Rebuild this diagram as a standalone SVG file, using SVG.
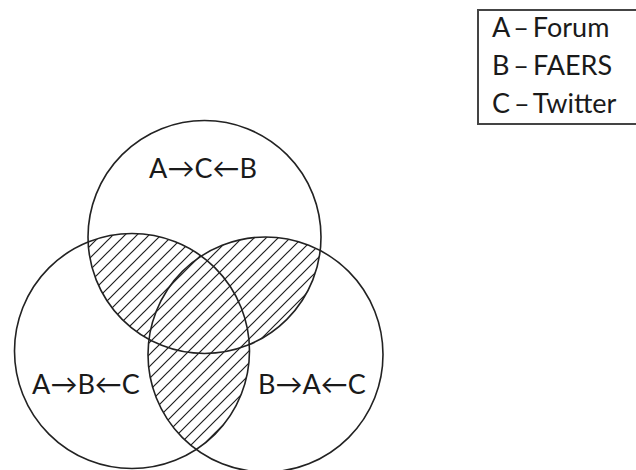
<svg xmlns="http://www.w3.org/2000/svg" width="636" height="470" viewBox="0 0 636 470">
<style>
.c{fill:none;stroke:#222;stroke-width:1.6}
.t{font-family:"Lato","Liberation Sans",sans-serif;font-size:27px;fill:#1a1a1a}
.l{word-spacing:-3px}
.m{fill:#fff}
</style>
<defs>
<pattern id="hatch" patternUnits="userSpaceOnUse" width="12" height="12">
<path d="M-1,1 L1,-1 M0,12 L12,0 M11,13 L13,11" stroke="#1e1e1e" stroke-width="1.2"/>
</pattern>
<clipPath id="cA"><circle cx="204.5" cy="237" r="116.5"/></clipPath>
<clipPath id="cB"><circle cx="132" cy="351" r="117.5"/></clipPath>
<mask id="overlaps" maskUnits="userSpaceOnUse" x="0" y="0" width="636" height="470">
<g clip-path="url(#cA)"><circle class="m" cx="132" cy="351" r="117.5"/></g>
<g clip-path="url(#cA)"><circle class="m" cx="265.5" cy="354.5" r="117.5"/></g>
<g clip-path="url(#cB)"><circle class="m" cx="265.5" cy="354.5" r="117.5"/></g>
</mask>
</defs>
<rect width="636" height="470" fill="#fff"/>
<g id="hatching">
<rect x="0" y="100" width="420" height="370" fill="url(#hatch)" mask="url(#overlaps)"/>
</g>
<g id="circleA">
<circle class="c" cx="204.5" cy="237" r="116.5"/>
<text class="t" x="203" y="178" text-anchor="middle">A→C←B</text>
</g>
<g id="circleB">
<circle class="c" cx="132" cy="351" r="117.5"/>
<text class="t" x="86" y="394" text-anchor="middle">A→B←C</text>
</g>
<g id="circleC">
<circle class="c" cx="265.5" cy="354.5" r="117.5"/>
<text class="t" x="312" y="394" text-anchor="middle">B→A←C</text>
</g>
<g id="legend">
<rect x="478" y="10" width="170" height="114" fill="#fff" stroke="#444" stroke-width="2"/>
<text class="t l" x="492" y="37">A – Forum</text>
<text class="t l" x="492" y="75">B – FAERS</text>
<text class="t l" x="492" y="113">C – Twitter</text>
</g>
</svg>
